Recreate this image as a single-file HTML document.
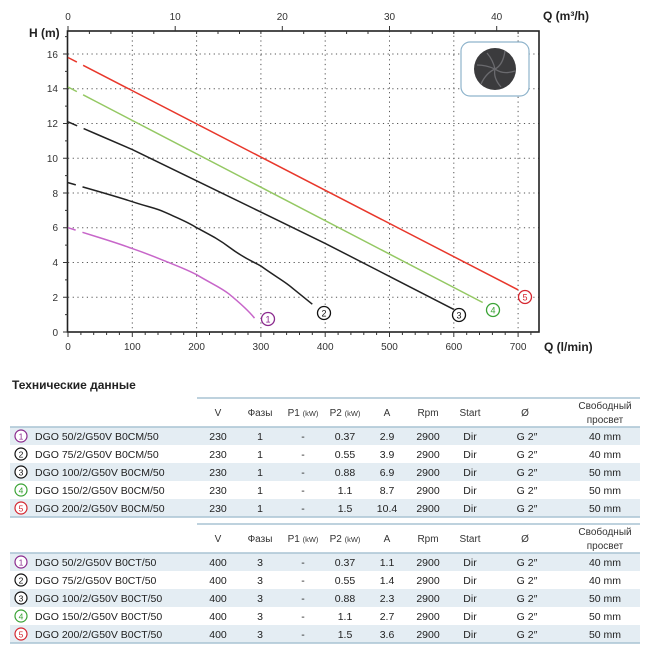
<!DOCTYPE html>
<html><head><meta charset="utf-8"><style>
body{margin:0;background:#fff;}
svg{display:block;font-family:"Liberation Sans",sans-serif;}
</style></head><body>
<svg width="650" height="650" viewBox="0 0 650 650" xmlns="http://www.w3.org/2000/svg">
<rect width="650" height="650" fill="#fff"/>
<!-- grid -->
<g stroke="#555" stroke-width="1" stroke-dasharray="1.2 3.5">
<line x1="132.3" y1="31" x2="132.3" y2="332"/>
<line x1="196.6" y1="31" x2="196.6" y2="332"/>
<line x1="260.9" y1="31" x2="260.9" y2="332"/>
<line x1="325.2" y1="31" x2="325.2" y2="332"/>
<line x1="389.5" y1="31" x2="389.5" y2="332"/>
<line x1="453.8" y1="31" x2="453.8" y2="332"/>
<line x1="518.1" y1="31" x2="518.1" y2="332"/>
<line x1="68" y1="297.2" x2="539" y2="297.2"/>
<line x1="68" y1="262.5" x2="539" y2="262.5"/>
<line x1="68" y1="227.7" x2="539" y2="227.7"/>
<line x1="68" y1="193" x2="539" y2="193"/>
<line x1="68" y1="158.2" x2="539" y2="158.2"/>
<line x1="68" y1="123.5" x2="539" y2="123.5"/>
<line x1="68" y1="88.7" x2="539" y2="88.7"/>
<line x1="68" y1="54" x2="539" y2="54"/>
</g>
<!-- frame -->
<rect x="67.5" y="31" width="471.5" height="301" fill="none" stroke="#222" stroke-width="1.6"/>
<!-- ticks -->
<g stroke="#333" stroke-width="1">
<path d="M68 332v5M132.3 332v5M196.6 332v5M260.9 332v5M325.2 332v5M389.5 332v5M453.8 332v5M518.1 332v5"/>
<path d="M80.9 332v3M93.7 332v3M106.6 332v3M119.4 332v3M145.2 332v3M158 332v3M170.9 332v3M183.7 332v3M209.5 332v3M222.3 332v3M235.2 332v3M248 332v3M273.8 332v3M286.6 332v3M299.5 332v3M312.3 332v3M338.1 332v3M350.9 332v3M363.8 332v3M376.6 332v3M402.4 332v3M415.2 332v3M428.1 332v3M440.9 332v3M466.7 332v3M479.5 332v3M492.4 332v3M505.2 332v3M530.9 332v3"/>
<path d="M63 332h5M63 297.2h5M63 262.5h5M63 227.7h5M63 193h5M63 158.2h5M63 123.5h5M63 88.7h5M63 54h5"/>
<path d="M65 314.6h3M65 279.9h3M65 245.1h3M65 210.4h3M65 175.6h3M65 140.9h3M65 106.1h3M65 71.4h3M65 36.6h3"/>
<path d="M68 26v5M175.2 26v5M282.3 26v5M389.5 26v5M496.7 26v5"/>
<path d="M89.4 31v3M110.9 31v3M132.3 31v3M153.8 31v3M196.6 31v3M218 31v3M239.5 31v3M260.9 31v3M303.7 31v3M325.2 31v3M346.6 31v3M368 31v3M410.9 31v3M432.3 31v3M453.8 31v3M475.2 31v3M518.1 31v3"/>
</g>
<!-- labels -->
<g font-size="10" fill="#333" text-anchor="middle">
<text x="68" y="350">0</text><text x="132.3" y="350">100</text><text x="196.6" y="350">200</text><text x="260.9" y="350">300</text><text x="325.2" y="350">400</text><text x="389.5" y="350">500</text><text x="453.8" y="350">600</text><text x="518.1" y="350">700</text>
<text x="68" y="20">0</text><text x="175.2" y="20">10</text><text x="282.3" y="20">20</text><text x="389.5" y="20">30</text><text x="496.7" y="20">40</text>
</g>
<g font-size="10" fill="#333" text-anchor="end">
<text x="58" y="336">0</text><text x="58" y="301">2</text><text x="58" y="266">4</text><text x="58" y="231">6</text><text x="58" y="197">8</text><text x="58" y="162">10</text><text x="58" y="127">12</text><text x="58" y="92">14</text><text x="58" y="58">16</text>
</g>
<text x="29" y="37" font-size="12" font-weight="bold" fill="#222">H (m)</text>
<text x="543" y="20" font-size="12" font-weight="bold" fill="#222">Q (m³/h)</text>
<text x="544" y="351" font-size="12" font-weight="bold" fill="#222">Q (l/min)</text>
<!-- impeller -->
<rect x="461" y="42" width="68" height="54" rx="9" fill="#fff" stroke="#8fb4cc" stroke-width="1.2"/>
<circle cx="495" cy="69" r="21" fill="#3b3b3d"/>
<g stroke="#6a6a6e" stroke-width="1.3" fill="none">
<path d="M495 69 q8 -4 10 -18"/><path d="M495 69 q8 6 20 2"/><path d="M495 69 q-2 9 6 18"/><path d="M495 69 q-9 4 -14 15"/><path d="M495 69 q-9 -4 -18 -4"/><path d="M495 69 q-2 -9 -8 -16"/>
</g>
<!-- curves -->
<g fill="none" stroke-width="1.5">
<line x1="68" y1="57.5" x2="518" y2="289.8" stroke="#e8372b" stroke-dasharray="10 7 15 0 1000"/>
<line x1="68" y1="87" x2="482.7" y2="302.5" stroke="#94c863" stroke-dasharray="10 7 15 0 1000"/>
<path d="M68 121.8 L132.3 149.6 L196.6 180.8 L260.9 212.1 L325.2 243.4 L389.5 276.4 L453.8 309.4" stroke="#222" stroke-dasharray="10 7 15 0 1000"/>
<path d="M68 182.6 C100 192 118 197 132.3 201.7 C148 207 156 208 164.5 212.1 C180 219 188 222 196.6 227.7 C212 236 220 240 228.8 246.9 C245 259 252 261 260.9 266 C276 277 286 282 293 288.6 L312.3 304.2" stroke="#222" stroke-dasharray="8 7 15 0 1000"/>
<path d="M68 227.7 C100 238 115 242 132.3 248.6 C148 254 155 257 164.5 260.8 C180 267 188 270 196.6 274.7 C212 284 220 287 228.8 293.8 C240 303 248 310 254.5 318.1" stroke="#c766c9" stroke-dasharray="8 7 15 0 1000"/>
</g>
<g font-size="9" text-anchor="middle" fill="#fff" stroke-width="1.3">
<circle cx="268" cy="319" r="6.5" stroke="#8b2a8e"/><text x="268" y="322.5" fill="#8b2a8e">1</text>
<circle cx="324" cy="313" r="6.5" stroke="#111"/><text x="324" y="316.5" fill="#111">2</text>
<circle cx="459" cy="315" r="6.5" stroke="#111"/><text x="459" y="318.5" fill="#111">3</text>
<circle cx="493" cy="310" r="6.5" stroke="#3aa335"/><text x="493" y="313.5" fill="#3aa335">4</text>
<circle cx="525" cy="297" r="6.5" stroke="#d5262f"/><text x="525" y="300.5" fill="#d5262f">5</text>
</g>
<!-- table title -->
<text x="12" y="389" font-size="12" font-weight="bold" fill="#222">Технические данные</text>

<!-- table 1 -->
<g>
<rect x="10" y="427" width="630" height="18" fill="#e4edf3"/>
<rect x="10" y="463" width="630" height="18" fill="#e4edf3"/>
<rect x="10" y="499" width="630" height="18" fill="#e4edf3"/>
<line x1="197" y1="398" x2="640" y2="398" stroke="#a9c3d3" stroke-width="1.5"/>
<line x1="10" y1="427" x2="640" y2="427" stroke="#a9c3d3" stroke-width="1.5"/>
<line x1="10" y1="517" x2="640" y2="517" stroke="#a9c3d3" stroke-width="1.5"/>
</g>
<g>
<rect x="10" y="553" width="630" height="18" fill="#e4edf3"/>
<rect x="10" y="589" width="630" height="18" fill="#e4edf3"/>
<rect x="10" y="625" width="630" height="18" fill="#e4edf3"/>
<line x1="197" y1="524" x2="640" y2="524" stroke="#a9c3d3" stroke-width="1.5"/>
<line x1="10" y1="553" x2="640" y2="553" stroke="#a9c3d3" stroke-width="1.5"/>
<line x1="10" y1="643" x2="640" y2="643" stroke="#a9c3d3" stroke-width="1.5"/>
</g>

<g font-size="10" fill="#333" text-anchor="middle">
<text x="218" y="416">V</text><text x="260" y="416">Фазы</text><text x="303" y="416">P1 <tspan font-size="7.5">(kW)</tspan></text><text x="345" y="416">P2 <tspan font-size="7.5">(kW)</tspan></text><text x="387" y="416">A</text><text x="428" y="416">Rpm</text><text x="470" y="416">Start</text><text x="525" y="416">Ø</text><text x="605" y="409">Свободный</text><text x="605" y="423">просвет</text>
<text x="218" y="542">V</text><text x="260" y="542">Фазы</text><text x="303" y="542">P1 <tspan font-size="7.5">(kW)</tspan></text><text x="345" y="542">P2 <tspan font-size="7.5">(kW)</tspan></text><text x="387" y="542">A</text><text x="428" y="542">Rpm</text><text x="470" y="542">Start</text><text x="525" y="542">Ø</text><text x="605" y="535">Свободный</text><text x="605" y="549">просвет</text>
</g>

<g font-size="10.5" fill="#222">
<g text-anchor="start">
<text x="35" y="440">DGO 50/2/G50V B0CM/50</text>
<text x="35" y="458">DGO 75/2/G50V B0CM/50</text>
<text x="35" y="476">DGO 100/2/G50V B0CM/50</text>
<text x="35" y="494">DGO 150/2/G50V B0CM/50</text>
<text x="35" y="512">DGO 200/2/G50V B0CM/50</text>
<text x="35" y="566">DGO 50/2/G50V B0CT/50</text>
<text x="35" y="584">DGO 75/2/G50V B0CT/50</text>
<text x="35" y="602">DGO 100/2/G50V B0CT/50</text>
<text x="35" y="620">DGO 150/2/G50V B0CT/50</text>
<text x="35" y="638">DGO 200/2/G50V B0CT/50</text>
</g>
<g text-anchor="middle">
<text x="218" y="440">230</text><text x="260" y="440">1</text><text x="303" y="440">-</text><text x="345" y="440">0.37</text><text x="387" y="440">2.9</text><text x="428" y="440">2900</text><text x="470" y="440">Dir</text><text x="527" y="440">G 2″</text><text x="605" y="440">40 mm</text>
<text x="218" y="458">230</text><text x="260" y="458">1</text><text x="303" y="458">-</text><text x="345" y="458">0.55</text><text x="387" y="458">3.9</text><text x="428" y="458">2900</text><text x="470" y="458">Dir</text><text x="527" y="458">G 2″</text><text x="605" y="458">40 mm</text>
<text x="218" y="476">230</text><text x="260" y="476">1</text><text x="303" y="476">-</text><text x="345" y="476">0.88</text><text x="387" y="476">6.9</text><text x="428" y="476">2900</text><text x="470" y="476">Dir</text><text x="527" y="476">G 2″</text><text x="605" y="476">50 mm</text>
<text x="218" y="494">230</text><text x="260" y="494">1</text><text x="303" y="494">-</text><text x="345" y="494">1.1</text><text x="387" y="494">8.7</text><text x="428" y="494">2900</text><text x="470" y="494">Dir</text><text x="527" y="494">G 2″</text><text x="605" y="494">50 mm</text>
<text x="218" y="512">230</text><text x="260" y="512">1</text><text x="303" y="512">-</text><text x="345" y="512">1.5</text><text x="387" y="512">10.4</text><text x="428" y="512">2900</text><text x="470" y="512">Dir</text><text x="527" y="512">G 2″</text><text x="605" y="512">50 mm</text>
<text x="218" y="566">400</text><text x="260" y="566">3</text><text x="303" y="566">-</text><text x="345" y="566">0.37</text><text x="387" y="566">1.1</text><text x="428" y="566">2900</text><text x="470" y="566">Dir</text><text x="527" y="566">G 2″</text><text x="605" y="566">40 mm</text>
<text x="218" y="584">400</text><text x="260" y="584">3</text><text x="303" y="584">-</text><text x="345" y="584">0.55</text><text x="387" y="584">1.4</text><text x="428" y="584">2900</text><text x="470" y="584">Dir</text><text x="527" y="584">G 2″</text><text x="605" y="584">40 mm</text>
<text x="218" y="602">400</text><text x="260" y="602">3</text><text x="303" y="602">-</text><text x="345" y="602">0.88</text><text x="387" y="602">2.3</text><text x="428" y="602">2900</text><text x="470" y="602">Dir</text><text x="527" y="602">G 2″</text><text x="605" y="602">50 mm</text>
<text x="218" y="620">400</text><text x="260" y="620">3</text><text x="303" y="620">-</text><text x="345" y="620">1.1</text><text x="387" y="620">2.7</text><text x="428" y="620">2900</text><text x="470" y="620">Dir</text><text x="527" y="620">G 2″</text><text x="605" y="620">50 mm</text>
<text x="218" y="638">400</text><text x="260" y="638">3</text><text x="303" y="638">-</text><text x="345" y="638">1.5</text><text x="387" y="638">3.6</text><text x="428" y="638">2900</text><text x="470" y="638">Dir</text><text x="527" y="638">G 2″</text><text x="605" y="638">50 mm</text>
</g>
</g>
<g font-size="8.5" text-anchor="middle" fill="#fff" stroke-width="1.2">
<circle cx="21" cy="436" r="6" stroke="#8b2a8e"/><text x="21" y="439.5" fill="#8b2a8e">1</text>
<circle cx="21" cy="454" r="6" stroke="#111"/><text x="21" y="457.5" fill="#111">2</text>
<circle cx="21" cy="472" r="6" stroke="#111"/><text x="21" y="475.5" fill="#111">3</text>
<circle cx="21" cy="490" r="6" stroke="#3aa335"/><text x="21" y="493.5" fill="#3aa335">4</text>
<circle cx="21" cy="508" r="6" stroke="#d5262f"/><text x="21" y="511.5" fill="#d5262f">5</text>
<circle cx="21" cy="562" r="6" stroke="#8b2a8e"/><text x="21" y="565.5" fill="#8b2a8e">1</text>
<circle cx="21" cy="580" r="6" stroke="#111"/><text x="21" y="583.5" fill="#111">2</text>
<circle cx="21" cy="598" r="6" stroke="#111"/><text x="21" y="601.5" fill="#111">3</text>
<circle cx="21" cy="616" r="6" stroke="#3aa335"/><text x="21" y="619.5" fill="#3aa335">4</text>
<circle cx="21" cy="634" r="6" stroke="#d5262f"/><text x="21" y="637.5" fill="#d5262f">5</text>
</g>
</svg>
</body></html>
